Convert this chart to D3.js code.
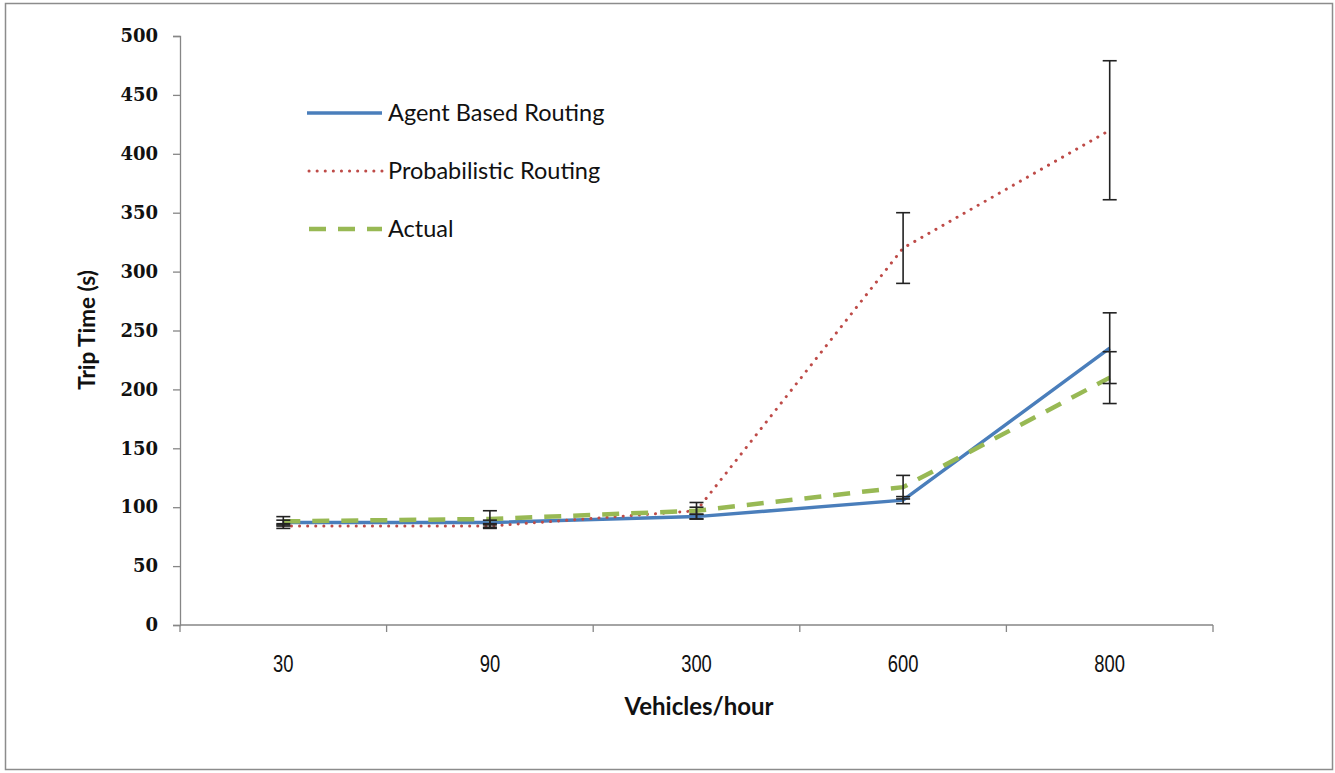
<!DOCTYPE html>
<html>
<head>
<meta charset="utf-8">
<script src="https://cdn.jsdelivr.net/npm/d3@7"></script>
<style>
  html, body { margin: 0; padding: 0; background: #fff; }
  svg { display: block; }
</style>
</head>
<body>
<svg id="chart" width="1335" height="773"></svg>
<script>
// Trip time vs. traffic volume for three routing models
const categories = ["30", "90", "300", "600", "800"];
const agentValues = [87, 87, 92, 106, 235];
const probValues = [84, 84, 97, 320, 420];
const actualValues = [88, 90, 97, 117, 210];
const agentErrors = [2, 2, 2, 3, 30];
const probErrors = [2, 2, 3, 30, 59];
const actualErrors = [4, 7, 7, 10, 22];
const yTicks = [0, 50, 100, 150, 200, 250, 300, 350, 400, 450, 500];
const seriesNames = ["Agent Based Routing", "Probabilistic Routing", "Actual"];

const svg = d3.select("#chart");

// outer frame
svg.append("rect")
  .attr("x", 5.5).attr("y", 3.5).attr("width", 1327).attr("height", 766)
  .attr("fill", "#fff").attr("stroke", "#8c8c8c").attr("stroke-width", 1.5);

const plot = { left: 180, right: 1213, top: 36, bottom: 625 };

const x = d3.scaleBand().domain(categories).range([plot.left, plot.right]);
const y = d3.scaleLinear().domain([0, 500]).range([plot.bottom, plot.top]);
const cx = c => x(c) + x.bandwidth() / 2;

const axisColor = "#868686";
const labelFont = "Lato, 'Open Sans', sans-serif";

// y axis
const yAxis = svg.append("g")
  .attr("transform", `translate(${plot.left},0)`)
  .call(d3.axisLeft(y).tickValues(yTicks).tickSize(7).tickPadding(15).tickFormat(d3.format("d")));
yAxis.select(".domain").attr("stroke", axisColor).attr("stroke-width", 1.3);
yAxis.selectAll(".tick line").attr("stroke", axisColor).attr("stroke-width", 1.3);
yAxis.selectAll(".tick text")
  .attr("fill", "#111")
  .style("font-family", "'DejaVu Serif', 'Liberation Serif', serif")
  .style("font-weight", "bold")
  .style("font-size", "18px");

// x axis with tick marks on category boundaries
const xAxisG = svg.append("g").attr("transform", `translate(0,${plot.bottom})`);
xAxisG.append("line")
  .attr("x1", plot.left).attr("x2", plot.right)
  .attr("stroke", axisColor).attr("stroke-width", 1.3);
const bounds = categories.map(c => x(c)).concat([plot.right]);
xAxisG.selectAll("line.tk").data(bounds).enter().append("line")
  .attr("class", "tk")
  .attr("x1", d => d).attr("x2", d => d).attr("y1", 0).attr("y2", 7)
  .attr("stroke", axisColor).attr("stroke-width", 1.3);
// condensed category labels
xAxisG.selectAll("text").data(categories).enter().append("text")
  .attr("transform", d => `translate(${cx(d)},47) scale(0.8,1)`)
  .attr("text-anchor", "middle")
  .attr("fill", "#111")
  .style("font-family", "'Liberation Sans', Arimo, sans-serif")
  .style("font-size", "23px")
  .text(d => d);

// axis titles
svg.append("text")
  .attr("transform", "translate(95,330) rotate(-90)")
  .attr("text-anchor", "middle")
  .attr("fill", "#111")
  .style("font-family", labelFont)
  .style("font-weight", "bold")
  .style("font-size", "22.5px")
  .text("Trip Time (s)");
svg.append("text")
  .attr("x", 699).attr("y", 715)
  .attr("text-anchor", "middle")
  .attr("fill", "#111")
  .style("font-family", labelFont)
  .style("font-weight", "bold")
  .style("font-size", "24px")
  .text("Vehicles/hour");

const series = [
  { name: seriesNames[0], values: agentValues, errors: agentErrors, color: "#4a7ebb", width: 3.5, dash: null, cap: "butt" },
  { name: seriesNames[1], values: probValues, errors: probErrors, color: "#be4b48", width: 3, dash: "0.1 8", cap: "round" },
  { name: seriesNames[2], values: actualValues, errors: actualErrors, color: "#98b954", width: 4.5, dash: "17 12", cap: "butt" }
];

const line = d3.line().x(d => cx(d.c)).y(d => y(d.v));

// series lines
series.forEach(s => {
  const pts = categories.map((c, i) => ({ c, v: s.values[i] }));
  svg.append("path")
    .datum(pts)
    .attr("d", line)
    .attr("fill", "none")
    .attr("stroke", s.color)
    .attr("stroke-width", s.width)
    .attr("stroke-linecap", s.cap)
    .attr("stroke-dasharray", s.dash);
});

// error bars
const errG = svg.append("g").attr("stroke", "#222").attr("stroke-width", 1.6);
series.forEach(s => {
  categories.forEach((c, i) => {
    const v = s.values[i], e = s.errors[i];
    const px = cx(c);
    errG.append("line").attr("x1", px).attr("x2", px).attr("y1", y(v + e)).attr("y2", y(v - e));
    [v + e, v - e].forEach(t => {
      errG.append("line").attr("x1", px - 7).attr("x2", px + 7).attr("y1", y(t)).attr("y2", y(t));
    });
  });
});

// legend
const legend = svg.append("g");
series.forEach((s, i) => {
  const ly = 113 + i * 58;
  legend.append("line")
    .attr("x1", s.dash ? 309 : 307).attr("x2", 382).attr("y1", ly).attr("y2", ly)
    .attr("stroke", s.color)
    .attr("stroke-width", s.width)
    .attr("stroke-linecap", s.cap)
    .attr("stroke-dasharray", s.dash);
  legend.append("text")
    .attr("x", 388).attr("y", ly + 8)
    .attr("fill", "#111")
    .style("font-family", labelFont)
    .style("font-size", "23.5px")
    .text(s.name);
});
</script>
</body>
</html>
